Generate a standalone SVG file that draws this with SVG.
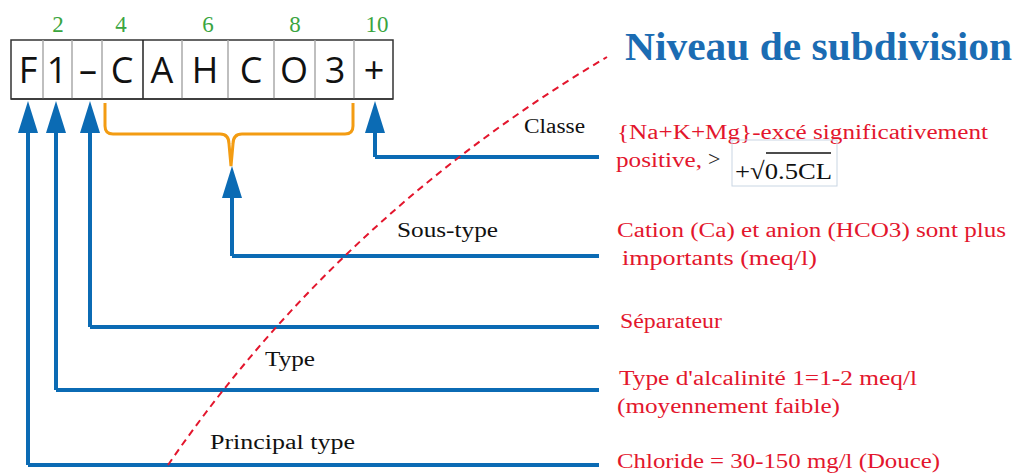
<svg xmlns="http://www.w3.org/2000/svg" width="1017" height="475" viewBox="0 0 1017 475">
<style>
.cell{font-family:"Open Sans","DejaVu Sans",sans-serif;font-size:36px;fill:#111;text-anchor:middle}
.num{font-family:"Liberation Serif",serif;font-size:23px;fill:#3aa53f;text-anchor:middle}
.lbl{font-family:"Liberation Serif",serif;font-size:20px;fill:#111}
.desc{font-family:"Liberation Serif",serif;font-size:20px;fill:#e3162d}
.conn{fill:none;stroke:#0b6bb4;stroke-width:4}
.div{stroke:#aaa;stroke-width:1.5}
</style>
<defs>
<marker id="ah" markerWidth="32" markerHeight="20" refX="0" refY="10" orient="auto" markerUnits="userSpaceOnUse" viewBox="0 0 32 20">
<path d="M0,0 L32,10 L0,20 Z" fill="#0b6bb4"/>
</marker>
</defs>
<rect width="1017" height="475" fill="#fff"/>

<g id="title"><text x="625" y="60" font-family="Liberation Serif,serif" font-size="40" font-weight="bold" fill="#1b6cb3" textLength="387" lengthAdjust="spacingAndGlyphs">Niveau de subdivision</text></g>

<g id="code">
<rect x="11" y="40" width="382" height="59" fill="#fff" stroke="#333" stroke-width="1.5"/>
<line class="div" x1="43" y1="40" x2="43" y2="99"/>
<line class="div" x1="72" y1="40" x2="72" y2="99"/>
<line class="div" x1="102" y1="40" x2="102" y2="99"/>
<line x1="143" y1="40" x2="143" y2="99" stroke="#222" stroke-width="1.5"/>
<line class="div" x1="182" y1="40" x2="182" y2="99"/>
<line class="div" x1="228" y1="40" x2="228" y2="99"/>
<line class="div" x1="274" y1="40" x2="274" y2="99"/>
<line class="div" x1="315" y1="40" x2="315" y2="99"/>
<line class="div" x1="354" y1="40" x2="354" y2="99"/>
<line x1="11" y1="99" x2="393" y2="99" stroke="#333" stroke-width="1.5"/>
<text class="cell" x="28" y="83">F</text>
<text class="cell" x="57" y="83">1</text>
<text class="cell" x="88" y="83">–</text>
<text class="cell" x="122" y="83">C</text>
<text class="cell" x="162" y="83">A</text>
<text class="cell" x="205" y="83">H</text>
<text class="cell" x="251" y="83">C</text>
<text class="cell" x="294" y="83">O</text>
<text class="cell" x="335" y="83">3</text>
<text class="cell" x="374" y="83">+</text>
<text class="num" x="58" y="32">2</text>
<text class="num" x="121" y="32">4</text>
<text class="num" x="208" y="32">6</text>
<text class="num" x="295" y="32">8</text>
<text class="num" x="377" y="32">10</text>
</g>

<g id="brace"><path d="M105,103 L105,126 Q105,134 113,134 L220,134 Q229,134 229,144 L231,166 L233,144 Q233,134 242,134 L345,134 Q353,134 353,126 L353,103" fill="none" stroke="#f39c12" stroke-width="3"/></g>

<g id="connectors">
<path class="conn" d="M28,465 L28,133" marker-end="url(#ah)"/>
<path class="conn" d="M28,465 L599,465"/>
<path class="conn" d="M56,390 L56,133" marker-end="url(#ah)"/>
<path class="conn" d="M56,390 L599,390"/>
<path class="conn" d="M90,327 L90,133" marker-end="url(#ah)"/>
<path class="conn" d="M90,327 L599,327"/>
<path class="conn" d="M232,256 L232,198" marker-end="url(#ah)"/>
<path class="conn" d="M232,256 L599,256"/>
<path class="conn" d="M375,157 L375,133" marker-end="url(#ah)"/>
<path class="conn" d="M375,157 L599,157"/>
<path d="M168,465 Q340,215 607,57" fill="none" stroke="#e3162d" stroke-width="2" stroke-dasharray="7,5"/>
</g>

<g id="labels">
<text class="lbl" x="524" y="133" textLength="61" lengthAdjust="spacingAndGlyphs">Classe</text>
<text class="lbl" x="397" y="237" textLength="101" lengthAdjust="spacingAndGlyphs">Sous-type</text>
<text class="lbl" x="265" y="366" textLength="50" lengthAdjust="spacingAndGlyphs">Type</text>
<text class="lbl" x="210" y="449" textLength="145" lengthAdjust="spacingAndGlyphs">Principal type</text>
</g>

<g id="descriptions">
<text class="desc" x="617" y="139" textLength="371" lengthAdjust="spacingAndGlyphs">{Na+K+Mg}-excé significativement</text>
<text class="desc" x="616" y="167" textLength="86" lengthAdjust="spacingAndGlyphs">positive,</text>
<text x="708" y="166" font-family="Liberation Serif,serif" font-size="22" fill="#222">&gt;</text>
<rect x="732" y="140" width="105" height="46" fill="none" stroke="#c9d6e3" stroke-width="1"/>
<text x="735" y="179" font-family="Liberation Serif,serif" font-size="24" fill="#111" textLength="97" lengthAdjust="spacingAndGlyphs">+√0.5CL</text>
<line x1="766" y1="153" x2="831" y2="153" stroke="#111" stroke-width="1.5"/>
<text class="desc" x="617" y="237" textLength="389" lengthAdjust="spacingAndGlyphs">Cation (Ca) et anion (HCO3) sont plus</text>
<text class="desc" x="622" y="265" textLength="195" lengthAdjust="spacingAndGlyphs">importants (meq/l)</text>
<text class="desc" x="620" y="328" textLength="102" lengthAdjust="spacingAndGlyphs">Séparateur</text>
<text class="desc" x="619" y="385" textLength="298" lengthAdjust="spacingAndGlyphs">Type d'alcalinité 1=1-2 meq/l</text>
<text class="desc" x="617" y="413" textLength="223" lengthAdjust="spacingAndGlyphs">(moyennement faible)</text>
<text class="desc" x="617" y="468" textLength="323" lengthAdjust="spacingAndGlyphs">Chloride = 30-150 mg/l (Douce)</text>
</g>
</svg>
